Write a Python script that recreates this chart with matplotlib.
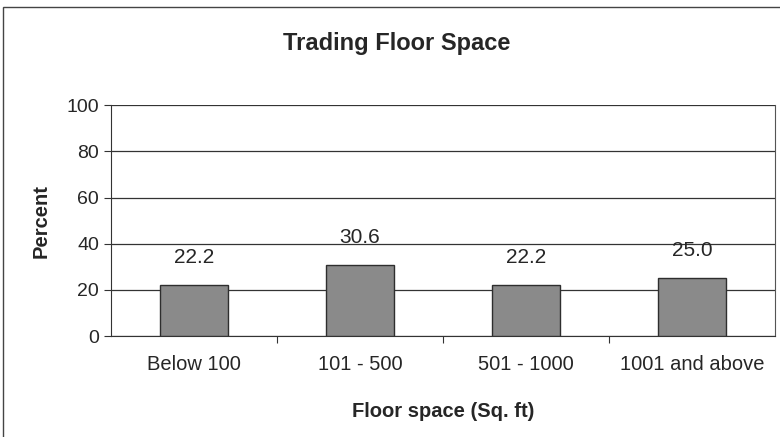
#!/usr/bin/env python3
import matplotlib
matplotlib.use('Agg')
import matplotlib.pyplot as plt
from matplotlib.patches import Rectangle

categories = ['Below 100', '101 - 500', '501 - 1000', '1001 and above']
percent = [22.2, 30.6, 22.2, 25.0]
yticks = [0, 20, 40, 60, 80, 100]

plt.rcParams['font.family'] = ['Liberation Sans', 'DejaVu Sans']
ink = '#262626'

fig = plt.figure(figsize=(7.8, 4.37), dpi=100)
# outer chart frame
fig.patches.append(Rectangle((0.004, -0.01), 1.2, 0.995, transform=fig.transFigure,
                             fill=False, ec='#444444', lw=1.0))

ax = fig.add_axes([0.142, 0.231, 0.852, 0.528])  # x,y,w,h
x = range(len(categories))
ax.bar(x, percent, width=0.41, color='#8a8a8a', edgecolor='#2e2e2e', lw=1.0, zorder=3)

for xi, v in zip(x, percent):
    ax.annotate('%.1f' % v, xy=(xi, v), xytext=(0, 13), textcoords='offset points',
                ha='center', va='bottom', fontsize=15, color=ink)

ax.set_xlim(-0.5, len(categories) - 0.5)
ax.set_ylim(0, 100)
ax.set_yticks(yticks)
ax.yaxis.grid(True, color='#333333', lw=0.9, zorder=0)
ax.set_axisbelow(True)

# category separators as major ticks, names as minor tick labels
ax.set_xticks([i + 0.5 for i in range(len(categories) - 1)], minor=False)
ax.set_xticklabels([])
ax.set_xticks(list(x), minor=True)
ax.set_xticklabels(categories, minor=True, fontsize=14.5, color=ink)
ax.tick_params(axis='x', which='minor', length=0, pad=14)
ax.tick_params(axis='x', which='major', length=5, direction='out', color='#333333')
ax.tick_params(axis='y', length=5, direction='out', labelsize=14, labelcolor=ink,
               color='#333333')

ax.spines['top'].set_visible(False)
ax.spines['right'].set_color('#555555')
ax.spines['left'].set_color('#333333')
ax.spines['bottom'].set_color('#333333')

ax.set_ylabel('Percent', fontsize=14.5, fontweight='bold', labelpad=11, color=ink)
ax.set_xlabel('Floor space (Sq. ft)', fontsize=14.5, fontweight='bold', labelpad=20,
              color=ink)
fig.text(0.508, 0.9, 'Trading Floor Space', ha='center', va='center', fontsize=17,
         fontweight='bold', color=ink)

fig.savefig('out.png', dpi=100)
